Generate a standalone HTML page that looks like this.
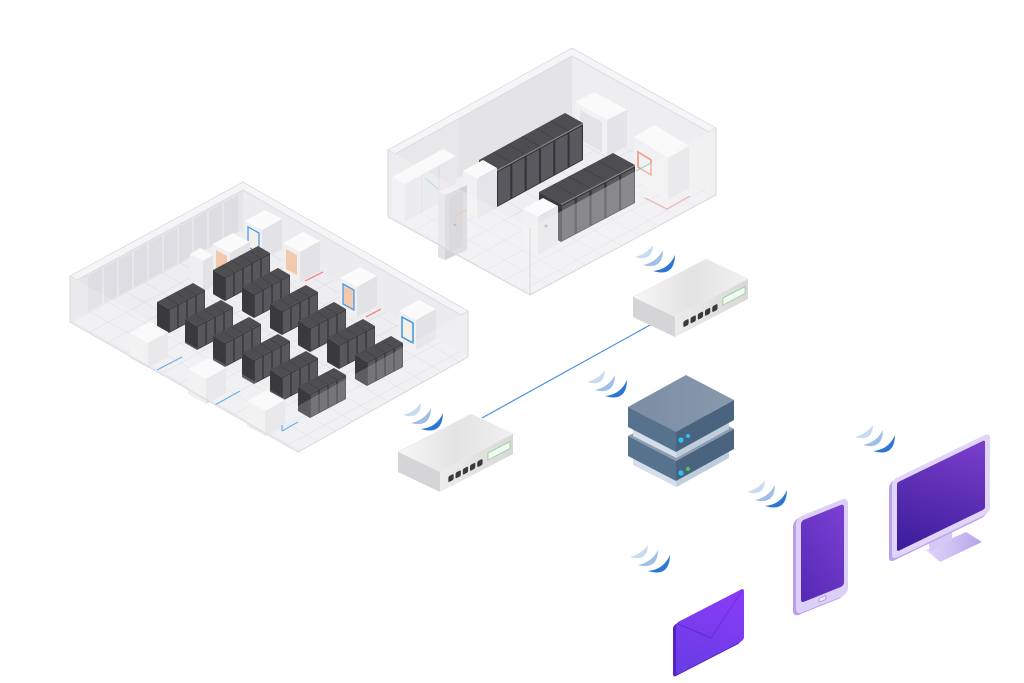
<!DOCTYPE html>
<html><head><meta charset="utf-8">
<style>html,body{margin:0;padding:0;background:#fff;}svg{display:block}</style>
</head><body>
<svg width="1024" height="683" viewBox="0 0 1024 683" xmlns="http://www.w3.org/2000/svg" xmlns:xlink="http://www.w3.org/1999/xlink">
<defs>
  <pattern id="tileL" width="18" height="18" patternUnits="userSpaceOnUse" patternTransform="matrix(1 -0.543 1 0.57 0 0)">
    <path d="M0 0H18M0 0V18" stroke="#dadade" stroke-width="1" fill="none"/>
  </pattern>
  <pattern id="tileR" width="18" height="18" patternUnits="userSpaceOnUse" patternTransform="matrix(1 -0.554 1 0.556 0 0)">
    <path d="M0 0H18M0 0V18" stroke="#dcdce0" stroke-width="1" fill="none"/>
  </pattern>
  <linearGradient id="swTop" x1="0" y1="0" x2="1" y2="0">
    <stop offset="0" stop-color="#f7f7f7"/><stop offset="0.5" stop-color="#e3e3e3"/><stop offset="1" stop-color="#f1f1f1"/>
  </linearGradient>
  <linearGradient id="swRight" x1="0" y1="0" x2="1" y2="0">
    <stop offset="0" stop-color="#ececec"/><stop offset="1" stop-color="#d8d8d8"/>
  </linearGradient>
  <linearGradient id="srvTop" x1="0" y1="0" x2="1" y2="0">
    <stop offset="0" stop-color="#7a8da2"/><stop offset="1" stop-color="#8899ad"/>
  </linearGradient>
  <linearGradient id="scrM" x1="0" y1="1" x2="1" y2="0">
    <stop offset="0" stop-color="#391c9a"/><stop offset="1" stop-color="#7c3fcc"/>
  </linearGradient>
  <linearGradient id="scrP" x1="0" y1="1" x2="1" y2="0">
    <stop offset="0" stop-color="#5429b4"/><stop offset="1" stop-color="#7c40d4"/>
  </linearGradient>
  <linearGradient id="env" x1="0" y1="1" x2="1" y2="0">
    <stop offset="0" stop-color="#663de4"/><stop offset="1" stop-color="#8c3bf6"/>
  </linearGradient>
  <linearGradient id="stand" x1="0" y1="0" x2="1" y2="0">
    <stop offset="0" stop-color="#e2d7f9"/><stop offset="1" stop-color="#b9a3ec"/>
  </linearGradient>

  <g id="rk4">
    <polygon points="0,0 36,-19 48,-12 12,7" fill="#4e4e51"/>
    <polygon points="0,0 12,7 12,31 0,24" fill="#3a3a3d"/>
    <g transform="matrix(0.884 -0.467 0 1 12 7)">
      <rect width="40.7" height="24" fill="#37373a"/>
      <rect x="0.8" y="1.2" width="8.6" height="22" fill="#58585c"/>
      <rect x="11" y="1.2" width="8.6" height="22" fill="#58585c"/>
      <rect x="21.2" y="1.2" width="8.6" height="22" fill="#58585c"/>
      <rect x="31.4" y="1.2" width="8.6" height="22" fill="#58585c"/>
    </g>
    <path d="M21 2.25L9 -4.75M30 -2.5L18 -9.5M39 -7.25L27 -14.25" stroke="#444447" stroke-width="0.8"/>
  </g>
  <g id="rk5">
    <polygon points="0,0 45,-24 57,-17 12,7" fill="#4e4e51"/>
    <polygon points="0,0 12,7 12,31 0,24" fill="#3a3a3d"/>
    <g transform="matrix(0.882 -0.47 0 1 12 7)">
      <rect width="51" height="24" fill="#37373a"/>
      <rect x="0.8" y="1.2" width="8.6" height="22" fill="#58585c"/>
      <rect x="11" y="1.2" width="8.6" height="22" fill="#58585c"/>
      <rect x="21.2" y="1.2" width="8.6" height="22" fill="#58585c"/>
      <rect x="31.4" y="1.2" width="8.6" height="22" fill="#58585c"/>
      <rect x="41.6" y="1.2" width="8.6" height="22" fill="#58585c"/>
    </g>
    <path d="M21 2.2L9 -4.8M30 -2.6L18 -9.6M39 -7.4L27 -14.4M48 -12.2L36 -19.2" stroke="#444447" stroke-width="0.8"/>
  </g>

  <g id="ac">
    <polygon points="0,0 20,-11 37,-2 17,9" fill="#fbfbfc"/>
    <polygon points="0,0 17,9 17,39 0,30" fill="#f0f0f2"/>
    <polygon points="17,9 37,-2 37,28 17,39" fill="#e3e3e7"/>
  </g>
  <g id="wb">
    <polygon points="0,0 20,-11 38,-1 18,10" fill="#f9f9fa"/>
    <polygon points="0,0 18,10 18,35 0,25" fill="#efeff1"/>
    <polygon points="18,10 38,-1 38,24 18,35" fill="#e4e4e8"/>
  </g>

  <g id="sw">
    <polygon points="0,0 73,-38 115,-18 42,20" fill="url(#swTop)" stroke="#ececec" stroke-width="0.8" stroke-linejoin="round"/>
    <polygon points="0,0 42,20 42,40 0,20" fill="#d5d5d7"/>
    <polygon points="42,20 115,-18 115,2 42,40" fill="url(#swRight)"/>
    <g transform="matrix(0.887 -0.462 0 1 42 20)">
      <rect x="9.4" y="8.8" width="6" height="6" rx="1.5" fill="#3a3a3d"/>
      <rect x="17.5" y="8.8" width="6" height="6" rx="1.5" fill="#3a3a3d"/>
      <rect x="25.7" y="8.8" width="6" height="6" rx="1.5" fill="#3a3a3d"/>
      <rect x="33.8" y="8.8" width="6" height="6" rx="1.5" fill="#3a3a3d"/>
      <rect x="42" y="8.8" width="6" height="6" rx="1.5" fill="#3a3a3d"/>
      <rect x="54" y="6" width="25" height="7" fill="#f3faf3" stroke="#94d394" stroke-width="1"/>
    </g>
  </g>

  <g id="wifi">
    <path d="M18 0 Q17.4 17.2 0 12 Q11.4 9.2 18 0Z" fill="#c8dbf0"/>
    <path d="M28 5 Q27.6 25.3 8 20 Q21.6 17.3 28 5Z" fill="#9fbfe6"/>
    <path d="M40 10 Q39.6 32.6 18 26 Q33.7 24.5 40 10Z" fill="#2d77d4"/>
  </g>
</defs>

<rect width="1024" height="683" fill="#ffffff"/>

<!-- ================= LEFT ROOM ================= -->
<polygon points="70,322 243,228 468,357 298,452" fill="#eeeef1"/>
<polygon points="70,322 243,228 468,357 298,452" fill="url(#tileL)"/>
<polygon points="70,276 243,182 243,228 70,322" fill="#e6e6e9"/>
<polygon points="243,182 468,311 468,357 243,228" fill="#ececef"/>
<polygon points="88,276 238,195 238,231 88,312" fill="#dedee2"/>
<path d="M103 267.9V303.9M118 259.8V295.8M133 251.7V287.7M148 243.6V279.6M163 235.5V271.5M178 227.4V263.4M193 219.3V255.3M208 211.2V247.2M223 203.1V239.1" stroke="#eeeef0" stroke-width="1.2"/>
<polygon points="70,276 243,182 468,311 461,315 243,190 77,280" fill="#f5f5f7" stroke="#dadade" stroke-width="0.8"/>

<use xlink:href="#ac" x="245" y="221"/>
<polygon points="248,227 259,233 259,253 248,247" fill="#f4efe9" stroke="#4a9ee8" stroke-width="1.3"/>
<use xlink:href="#ac" x="213" y="244"/>
<polygon points="216,250 227,256 227,276 216,270" fill="#f2c9ad"/>
<g transform="translate(190,254)">
  <polygon points="0,0 10,-6 23,1 13,7" fill="#fafafb"/>
  <polygon points="0,0 13,7 13,38 0,31" fill="#efeff1"/>
  <polygon points="13,7 23,1 23,32 13,38" fill="#e3e3e7"/>
</g>
<use xlink:href="#ac" x="283" y="243"/>
<polygon points="286,249 297,255 297,275 286,269" fill="#f2c9ad"/>
<use xlink:href="#ac" x="340" y="278"/>
<polygon points="343,284 354,290 354,310 343,304" fill="#f2c9ad" stroke="#4a9ee8" stroke-width="1.3"/>
<use xlink:href="#ac" x="399" y="311"/>
<polygon points="402,317 413,323 413,343 402,337" fill="#f4efe9" stroke="#3d95e6" stroke-width="1.5"/>

<path d="M305 281L323 272M366 317L381 309" stroke="#f08a8a" stroke-width="1.3"/>

<use xlink:href="#rk5" x="213" y="270"/>
<use xlink:href="#rk4" x="242" y="287"/>
<use xlink:href="#rk4" x="157" y="302"/>
<use xlink:href="#rk4" x="270" y="304"/>
<use xlink:href="#rk4" x="185" y="319"/>
<use xlink:href="#rk4" x="298" y="321"/>
<use xlink:href="#rk4" x="213" y="336"/>
<use xlink:href="#rk4" x="327" y="338"/>
<use xlink:href="#rk4" x="242" y="353"/>
<use xlink:href="#rk4" x="355" y="355"/>
<use xlink:href="#rk4" x="270" y="370"/>
<use xlink:href="#rk4" x="298" y="387"/>

<use xlink:href="#wb" x="130" y="333"/>
<use xlink:href="#wb" x="188" y="369"/>
<use xlink:href="#wb" x="247" y="401"/>
<path d="M157 370L182 357M215 405L240 391M282 431L298 422M282 431V425" stroke="#4a9ee8" stroke-width="1.2" fill="none"/>

<polygon points="70,276 298,406 468,311 468,357 298,452 70,322" fill="#ffffff" fill-opacity="0.18"/>
<path d="M70 276V322L298 452L468 357V311" fill="none" stroke="#d8d8dc" stroke-width="1"/>

<!-- ================= RIGHT ROOM ================= -->
<polygon points="388,217 572,115 716,195 530,295" fill="#efeff2"/>
<polygon points="388,217 572,115 716,195 530,295" fill="url(#tileR)"/>
<polygon points="388,150 572,48 572,115 388,217" fill="#e8e8eb"/>
<polygon points="458,111 572,48 572,115 458,178" fill="#e4e4e7"/>
<polygon points="572,48 716,128 716,195 572,115" fill="#eeeef0"/>
<polygon points="388,150 572,48 716,128 709,132 572,56 395,154" fill="#f5f5f7" stroke="#dadade" stroke-width="0.8"/>

<g transform="translate(392,177)">
  <polygon points="0,0 51,-28 64,-21 13,7" fill="#fafafb"/>
  <polygon points="0,0 13,7 13,45 0,38" fill="#f0f0f2"/>
  <polygon points="13,7 64,-21 64,17 13,45" fill="#e7e7ea"/>
  <path d="M30 -2.3V35.7M47 -11.6V26.4" stroke="#d8d8dc" stroke-width="0.8"/>
</g>
<g transform="translate(575,102)">
  <polygon points="0,0 20,-10 52,8 32,18" fill="#fafafb"/>
  <polygon points="0,0 32,18 32,54 0,36" fill="#f2f2f4"/>
  <polygon points="5,8 27,20 27,50 5,38" fill="#e4e4e7"/>
  <polygon points="32,18 52,8 52,44 32,54" fill="#e5e5e9"/>
</g>

<polygon points="479,160 565,113 583,123 497,170" fill="#4e4e51"/>
<polygon points="479,160 497,170 497,207 479,197" fill="#3a3a3d"/>
<g transform="matrix(0.8776 -0.4796 0 1 497 170)">
  <rect width="98" height="37" fill="#353538"/>
  <rect x="1.2" y="2.5" width="13.9" height="33.5" fill="#5a5a5e"/>
  <rect x="17.5" y="2.5" width="13.9" height="33.5" fill="#5a5a5e"/>
  <rect x="33.9" y="2.5" width="13.9" height="33.5" fill="#5a5a5e"/>
  <rect x="50.2" y="2.5" width="13.9" height="33.5" fill="#5a5a5e"/>
  <rect x="66.5" y="2.5" width="13.9" height="33.5" fill="#5a5a5e"/>
  <rect x="82.8" y="2.5" width="13.9" height="33.5" fill="#5a5a5e"/>
  <rect width="98" height="1.2" fill="#8a8a8e"/>
</g>
<path d="M511.3 162.2L493.3 152.2M525.7 154.3L507.7 144.3M540 146.5L522 136.5M554.3 138.7L536.3 128.7M568.7 130.8L550.7 120.8" stroke="#414144" stroke-width="0.8"/>

<g transform="translate(463,171)">
  <polygon points="0,0 20,-11 34,-3 14,8" fill="#fbfbfc"/>
  <polygon points="0,0 14,8 14,48 0,40" fill="#f1f1f3"/>
  <polygon points="14,8 34,-3 34,37 14,48" fill="#e6e6ea"/>
</g>
<polygon points="438,192 460,182 467,185 445,195" fill="#efeff1"/>
<polygon points="438,192 445,195 445,260 438,257" fill="#e2e2e5"/>
<polygon points="445,195 467,185 467,250 445,260" fill="#d4d4d8"/>
<polygon points="449,197 463,190 463,246 449,253" fill="#cdcdd2"/>
<circle cx="455" cy="225" r="1.4" fill="#a9a9ae"/>
<path d="M425 178L438 189" stroke="#7fd0a8" stroke-width="0.8"/>
<path d="M455 216L467 210" stroke="#f0b070" stroke-width="0.8"/>

<g transform="translate(634,137)">
  <polygon points="0,0 21,-12 55,9 34,21" fill="#fafafb"/>
  <polygon points="0,0 34,21 34,63 0,42" fill="#f1f1f3"/>
  <polygon points="34,21 55,9 55,51 34,63" fill="#e4e4e8"/>
</g>
<polygon points="638,152 651,160 651,175 638,167" fill="none" stroke="#ef9a86" stroke-width="1.6"/>
<path d="M651 163L636 171" stroke="#6cc79a" stroke-width="0.8"/>

<polygon points="539,192 613,153 635,165 561,204" fill="#4e4e51"/>
<polygon points="539,192 561,204 561,242 539,230" fill="#3a3a3d"/>
<g transform="matrix(0.885 -0.466 0 1 561 204)">
  <rect width="83.6" height="38" fill="#353538"/>
  <rect x="1.2" y="2.5" width="14.3" height="34.5" fill="#5a5a5e"/>
  <rect x="17.9" y="2.5" width="14.3" height="34.5" fill="#5a5a5e"/>
  <rect x="34.6" y="2.5" width="14.3" height="34.5" fill="#5a5a5e"/>
  <rect x="51.4" y="2.5" width="14.3" height="34.5" fill="#5a5a5e"/>
  <rect x="68.1" y="2.5" width="14.3" height="34.5" fill="#5a5a5e"/>
  <rect width="83.6" height="1.2" fill="#8a8a8e"/>
</g>
<path d="M575.8 196.2L553.8 184.2M590.6 188.4L568.6 176.4M605.4 180.6L583.4 168.6M620.2 172.8L598.2 160.8" stroke="#414144" stroke-width="0.8"/>

<g transform="translate(523,209)">
  <polygon points="0,0 20,-11 35,-3 15,8" fill="#fbfbfc"/>
  <polygon points="0,0 15,8 15,46 0,38" fill="#f1f1f3"/>
  <polygon points="15,8 35,-3 35,35 15,46" fill="#e6e6ea"/>
</g>
<circle cx="546" cy="226" r="1.5" fill="#a9a9ae"/>

<path d="M645 198L667 209L690 196" fill="none" stroke="#f29090" stroke-width="1.2"/>

<polygon points="388,150 530,228 716,128 716,195 530,295 388,217" fill="#f7f7f9" fill-opacity="0.3"/>
<path d="M388 150V217L530 295L716 195V128M530 228V295" fill="none" stroke="#d8d8dc" stroke-width="1"/>

<!-- ================= NETWORK ================= -->
<line x1="482" y1="418" x2="650" y2="325" stroke="#4a90e2" stroke-width="1.2"/>

<use xlink:href="#sw" x="633" y="297"/>
<use xlink:href="#sw" x="398" y="452"/>

<polygon points="633,456 676.5,478 676.5,487 633,465" fill="#d4dfeb"/>
<polygon points="676.5,478 729,449 729,458 676.5,487" fill="#bfcddd"/>
<polygon points="628,436 686,404 734,429 676,461" fill="#8d9db0"/>
<polygon points="628,436 676,461 676,481 628,456" fill="#56728d"/>
<polygon points="676,461 734,429 734,449 676,481" fill="#4a6480"/>
<polygon points="633,427 676.5,449 676.5,458 633,436" fill="#d4dfeb"/>
<polygon points="676.5,449 729,420 729,429 676.5,458" fill="#bfcddd"/>
<polygon points="628,407 686,375 734,400 676,432" fill="url(#srvTop)"/>
<polygon points="628,407 676,432 676,452 628,427" fill="#56728d"/>
<polygon points="676,432 734,400 734,420 676,452" fill="#4a6480"/>
<circle cx="681" cy="440" r="2.6" fill="#2bc3f3"/>
<circle cx="688" cy="436" r="2" fill="#2bc3f3"/>
<circle cx="681" cy="473" r="2.6" fill="#2bc3f3"/>
<circle cx="688" cy="469" r="2" fill="#46c95a"/>

<use xlink:href="#wifi" x="403" y="403"/>
<use xlink:href="#wifi" x="635" y="245"/>
<use xlink:href="#wifi" x="587" y="370"/>
<use xlink:href="#wifi" x="855" y="425"/>
<use xlink:href="#wifi" x="747" y="480"/>
<use xlink:href="#wifi" x="630" y="545"/>

<polygon points="926,550 966,532 982,542 940,562" fill="url(#stand)"/>
<polygon points="928,538 952,526 952,541 930,552" fill="#d6c8f5"/>
<g transform="matrix(1 -0.485 0 1 892 480)">
  <rect x="-3" y="1.5" width="98" height="80" rx="5" fill="#b9a2ea"/>
  <rect x="0" y="0" width="98" height="80" rx="5" fill="#e0d4f8"/>
  <rect x="5" y="5" width="88" height="69" rx="2" fill="url(#scrM)"/>
</g>

<g transform="matrix(1 -0.404 0 1 796 518)">
  <rect x="-3" y="1" width="52" height="97" rx="6" fill="#b79fe9"/>
  <rect x="0" y="0" width="52" height="97" rx="6" fill="#ddd0f8"/>
  <rect x="5" y="5" width="43" height="82" rx="3" fill="url(#scrP)"/>
  <rect x="23" y="89.5" width="7" height="4" rx="1.5" fill="#efe8fc" stroke="#a68ee0" stroke-width="0.8"/>
</g>

<g transform="matrix(1 -0.515 0 1 676 623)">
  <rect x="-3" y="1" width="68" height="52" rx="3" fill="#5522c6"/>
  <rect x="0" y="0" width="68" height="52" rx="3" fill="url(#env)"/>
  <path d="M1 1 L35 33 L67 1" fill="none" stroke="#5b2ad2" stroke-width="1" opacity="0.8"/>
</g>

</svg>
</body></html>
